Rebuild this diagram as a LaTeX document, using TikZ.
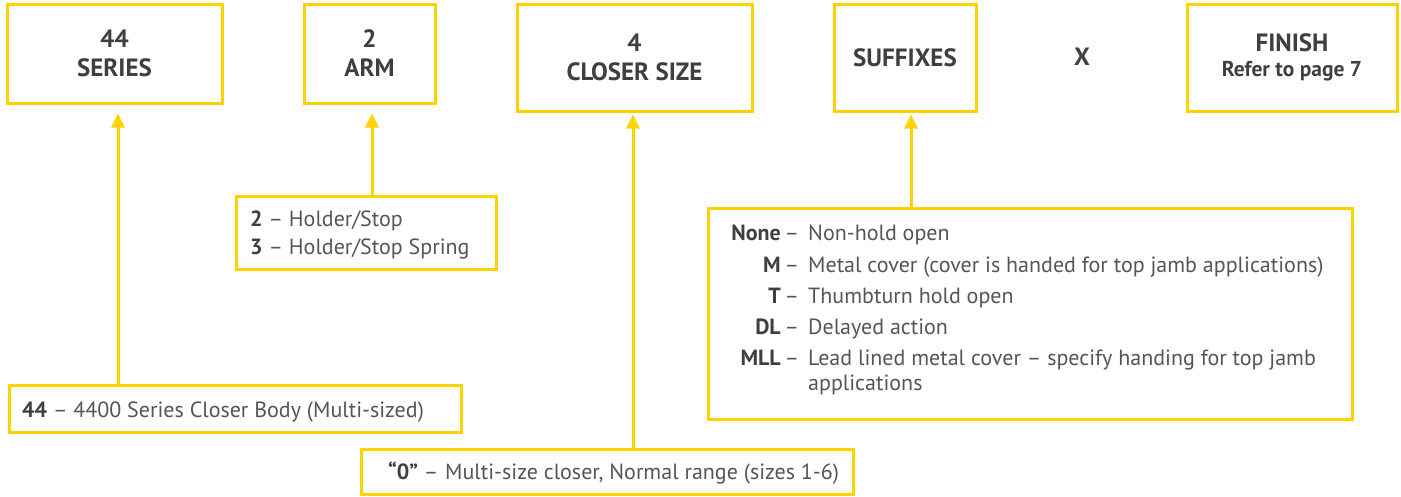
\documentclass[tikz,border=0pt]{standalone}
\usepackage{fontspec}
\setmainfont{PT Sans}
\usetikzlibrary{arrows.meta,calc}
\definecolor{ylw}{HTML}{FFD200}
\definecolor{ink}{HTML}{3F3F3F}
\definecolor{body}{HTML}{555555}
\tikzset{
  titlebox/.style={draw=ylw,line width=3pt,inner sep=0pt,font=\fontsize{25}{29}\selectfont\bfseries,text=ink,align=center},
  descbox/.style={draw=ylw,line width=3pt,inner sep=0pt},
  arr/.style={draw=ylw,line width=3pt,-{Triangle[width=13pt,length=14pt]}},
  txt/.style={inner sep=0pt,font=\fontsize{22}{26}\selectfont,text=body},
  lbl/.style={inner sep=0pt,font=\fontsize{22}{26}\selectfont\bfseries,text=ink},
}
\newcommand{\bl}[1]{{\color{ink}\bfseries #1}}
\begin{document}
\begin{tikzpicture}[x=1pt,y=-1pt]
\useasboundingbox (0,0) rectangle (1401,496);
% title boxes
\node[titlebox,minimum width=215pt,minimum height=99pt] (s44) at (114.5,53.5) {44\\SERIES};
\node[titlebox,minimum width=131pt,minimum height=99pt] (arm) at (369.5,53.5) {2\\ARM};
\node[titlebox,minimum width=235pt,minimum height=107pt] (csz) at (634.5,57.5) {4\\CLOSER SIZE};
\node[titlebox,minimum width=142pt,minimum height=107pt] (sfx) at (905,57.5) {SUFFIXES};
\node[inner sep=0pt,font=\fontsize{25}{29}\selectfont\bfseries,text=ink] (x) at (1082,57) {X};
\node[titlebox,minimum width=210pt,minimum height=107pt] (fin) at (1292,57.5) {FINISH\\[-4pt]{\fontsize{21.5}{25}\selectfont Refer to page 7}};
% description boxes
\node[descbox,minimum width=452pt,minimum height=47pt] (d44) at (235,408.5) {};
\node[descbox,minimum width=260pt,minimum height=73pt] (darm) at (366,232.5) {};
\node[descbox,minimum width=492pt,minimum height=45pt] (dcsz) at (607,471.5) {};
\node[descbox,minimum width=644pt,minimum height=211pt] (dsfx) at (1030,313.5) {};
% arrow columns
\coordinate (c1) at (118,0);
\coordinate (c2) at (372,0);
\coordinate (c3) at (633,0);
\coordinate (c4) at (911,0);
\draw[arr,shorten >=9pt] (d44.north -| c1) -- (s44.south -| c1);
\draw[arr,shorten >=9pt] (darm.north -| c2) -- (arm.south -| c2);
\draw[arr,shorten >=2pt] (dcsz.north -| c3) -- (csz.south -| c3);
\draw[arr,shorten >=2pt] (dsfx.north -| c4) -- (sfx.south -| c4);
% 44 text
\node[txt,anchor=base west] (t44) at (22,417) {\bl{44} – 4400 Series Closer Body (Multi-sized)};
% arm text
\node[txt,anchor=base west] (ta1) at (250,226) {\bl{2} – Holder/Stop};
\node[txt,anchor=base west] (ta2) at (250,254) {\bl{3} – Holder/Stop Spring};
% closer text
\node[txt,anchor=base west] (tc1) at (388,479) {\bl{“0”} –};
\node[txt,anchor=base west] (tc3) at (445,479) {Multi-size closer, Normal range (sizes 1-6)};
% suffix text
\foreach \l/\d/\y/\n in {None/Non-hold open/240/a, M/Metal cover (cover is handed for top jamb applications)/272/b, T/Thumbturn hold open/303/c, DL/Delayed action/334/d, MLL/Lead lined metal cover – specify handing for top jamb/365/e}{
  \node[lbl,anchor=base east] (sl\n) at (781,\y) {\l};
  \node[txt,anchor=base] (sd\n) at (792,\y) {–};
  \node[txt,anchor=base west] (st\n) at (808,\y) {\d};
}
\node[txt,anchor=base west] (stf) at (808,390) {applications};
\end{tikzpicture}
\end{document}
